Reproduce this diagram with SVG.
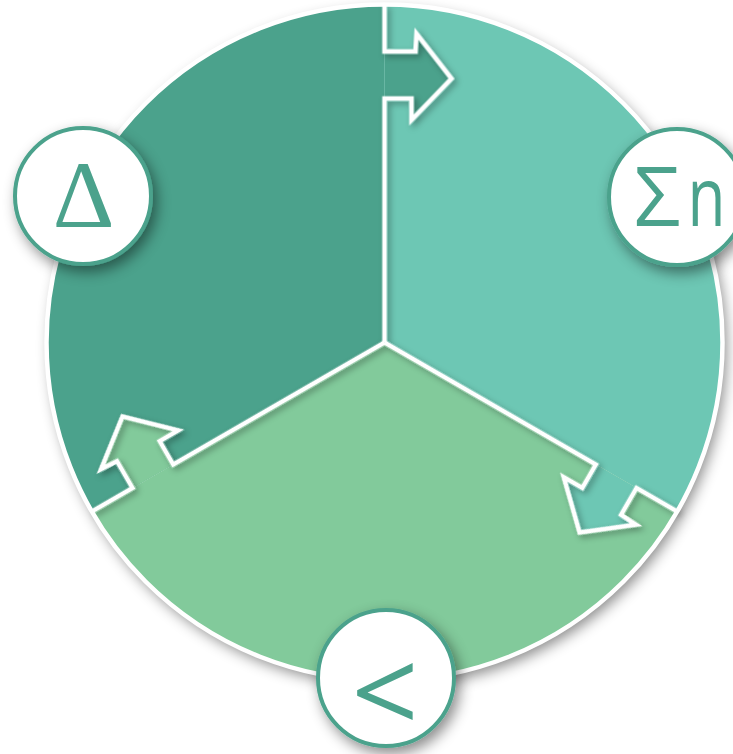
<svg xmlns="http://www.w3.org/2000/svg" width="733" height="754" viewBox="0 0 733 754">
<style>
.dark{fill:#4ba28c}
.light{fill:#6dc7b4}
.green{fill:#82ca9b}
.edge{fill:none;stroke:#fff;stroke-width:4.5;stroke-linejoin:miter}
.badge{fill:#fff;stroke:#4ba28c;stroke-width:4}
.sym{fill:#4ba28c}
</style>
<defs>
<filter id="sh" x="-20%" y="-20%" width="140%" height="140%">
<feDropShadow dx="4" dy="6" stdDeviation="7" flood-color="#000" flood-opacity="0.45"/>
</filter>
<filter id="lsh" x="-20%" y="-20%" width="140%" height="140%">
<feDropShadow dx="3" dy="3" stdDeviation="3" flood-color="#000" flood-opacity="0.35"/>
</filter>
<path id="arrow" d="M0,-291 L31,-291 L32,-309 L67,-264 L27,-222.5 L27,-244 L0,-244 Z"/>
<path id="bound" d="M0,-338 L0,-291 L31,-291 L32,-309 L67,-264 L27,-222.5 L27,-244 L0,-244 L0,0"/>
</defs>
<rect width="733" height="754" fill="#fff"/>
<g transform="translate(384.5,342.5)">
<circle r="338" fill="#fff" filter="url(#sh)"/>
<g id="sector-left">
<path class="dark" d="M0,0 L-292.72,169 A338,338 0 0 1 0,-338 Z"/>
</g>
<g id="sector-right">
<path class="light" d="M0,0 L0,-338 A338,338 0 0 1 292.72,169 Z"/>
</g>
<g id="sector-bottom">
<path class="green" d="M0,0 L292.72,169 A338,338 0 0 1 -292.72,169 Z"/>
</g>
<g id="connectors">
<use href="#arrow" class="dark"/>
<use href="#arrow" class="light" transform="rotate(120)"/>
<use href="#arrow" class="green" transform="rotate(240)"/>
<g filter="url(#lsh)">
<use href="#bound" class="edge"/>
<use href="#bound" class="edge" transform="rotate(120)"/>
<use href="#bound" class="edge" transform="rotate(240)"/>
</g>
</g>
<circle r="338" class="edge"/>
</g>
<g id="node-delta" filter="url(#sh)">
<circle cx="83" cy="196" r="68" class="badge"/>
<text x="83.5" y="227" class="sym" font-family="Liberation Serif, serif" font-size="96" text-anchor="middle">Δ</text>
</g>
<g id="node-sigma" filter="url(#sh)">
<circle cx="677" cy="197" r="68" class="badge"/>
<text x="634" y="226" class="sym" font-family="Open Sans, sans-serif" font-size="82">Σ<tspan x="687.5" textLength="38" lengthAdjust="spacingAndGlyphs">n</tspan></text>
</g>
<g id="node-less" filter="url(#sh)">
<circle cx="386" cy="678" r="68" class="badge"/>
<text x="385" y="734" class="sym" font-family="Open Sans, sans-serif" font-size="118" text-anchor="middle">&lt;</text>
</g>
</svg>
